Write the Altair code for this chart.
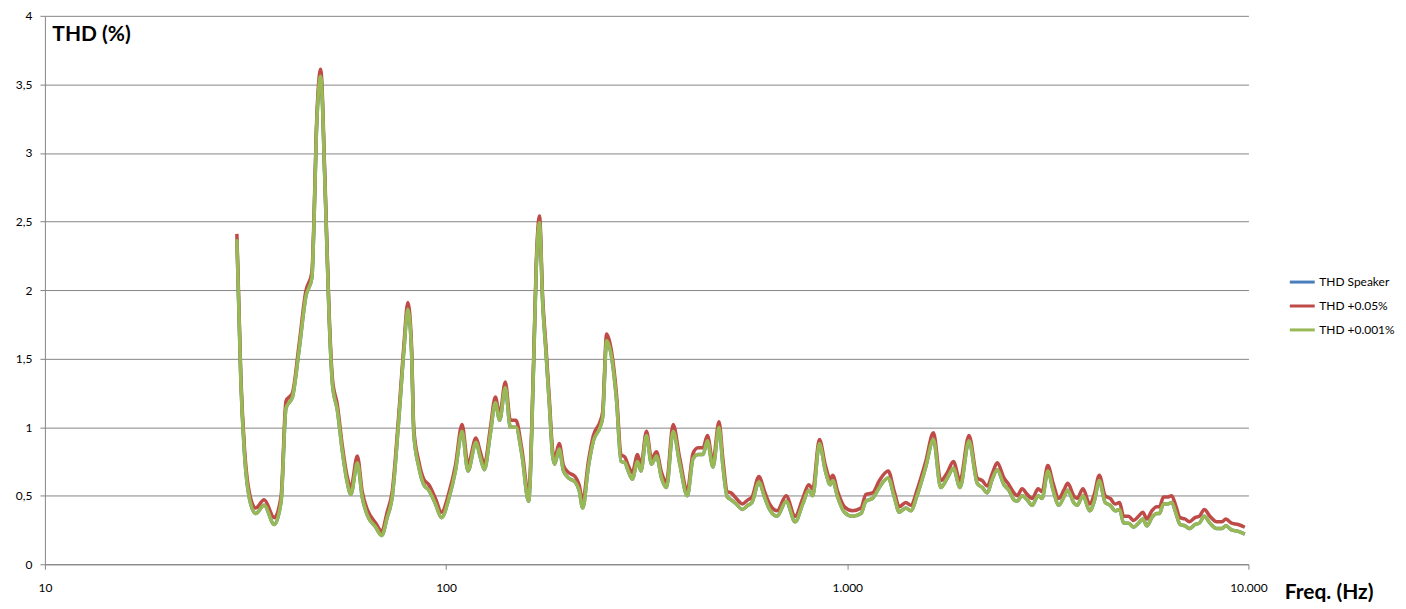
import altair as alt
import pandas as pd

freq = [30.1, 30.8, 31.4, 32.3, 33.5, 35.2, 37.3, 38.8, 39.9, 41.4,
        43.0, 44.7, 46.3, 46.9, 47.5, 48.7, 49.9, 51.1, 52.1, 53.6,
        55.1, 56.6, 57.9, 60.1, 61.8, 63.6, 66.8, 69.1, 71.3, 73.4,
        76.3, 78.5, 80.3, 82.0, 83.1, 85.5, 88.0, 90.6, 94.1, 97.4,
        101.6, 105.5, 109.6, 113.4, 118.7, 121.7, 124.6, 128.9, 132.7, 136.0,
        140.5, 144.6, 149.3, 154.5, 160.6, 165.2, 167.8, 171.0, 174.0, 177.3,
        181.1, 184.2, 186.4, 191.4, 196.2, 201.8, 209.7, 214.6, 219.1, 226.3,
        232.9, 242.0, 245.6, 251.3, 258.6, 266.1, 272.9, 279.2, 284.5, 291.1,
        300.1, 306.0, 315.9, 325.1, 334.6, 344.3, 354.3, 368.1, 382.5, 399.4,
        412.7, 424.7, 437.1, 448.0, 462.8, 478.9, 490.1, 502.3, 513.9, 528.9,
        547.4, 565.5, 578.6, 602.3, 622.2, 640.3, 668.8, 704.1, 741.3, 774.7,
        801.9, 820.4, 852.4, 882.2, 907.8, 919.8, 946.5, 983.5, 1031, 1082,
        1113, 1156, 1202, 1265, 1310, 1348, 1399, 1440, 1496, 1569,
        1640, 1710, 1777, 1839, 1910, 2011, 2109, 2171, 2234, 2298,
        2365, 2458, 2529, 2603, 2652, 2729, 2808, 2890, 2991, 3060,
        3162, 3260, 3368, 3466, 3546, 3669, 3739, 3870, 4021, 4128,
        4248, 4396, 4524, 4655, 4774, 4885, 5026, 5172, 5322, 5456,
        5581, 5743, 5910, 6002, 6140, 6283, 6440, 6601, 6754, 6950,
        7126, 7359, 7546, 7765, 8017, 8332, 8574, 8786, 9079, 9433,
        9795]

thd_speaker = [2.37, 1.32, 0.83, 0.49, 0.37, 0.43, 0.29, 0.46, 1.14, 1.22,
               1.56, 1.95, 2.09, 2.53, 3.14, 3.56, 2.77, 1.80, 1.31, 1.12,
               0.83, 0.61, 0.51, 0.74, 0.49, 0.36, 0.27, 0.21, 0.34, 0.49,
               1.07, 1.56, 1.86, 1.56, 0.95, 0.71, 0.58, 0.54, 0.44, 0.34,
               0.48, 0.68, 0.97, 0.68, 0.89, 0.78, 0.69, 0.95, 1.18, 1.05,
               1.29, 1.00, 1.00, 0.80, 0.46, 1.43, 2.16, 2.49, 1.92, 1.56,
               1.14, 0.80, 0.73, 0.84, 0.68, 0.63, 0.60, 0.54, 0.41, 0.71,
               0.90, 1.00, 1.07, 1.63, 1.51, 1.19, 0.75, 0.74, 0.68, 0.62,
               0.75, 0.68, 0.94, 0.73, 0.79, 0.63, 0.56, 0.97, 0.73, 0.50,
               0.77, 0.80, 0.80, 0.90, 0.71, 1.00, 0.71, 0.49, 0.47, 0.44,
               0.40, 0.43, 0.45, 0.60, 0.49, 0.40, 0.35, 0.46, 0.31, 0.44,
               0.54, 0.50, 0.88, 0.68, 0.58, 0.61, 0.49, 0.38, 0.35, 0.37,
               0.46, 0.48, 0.56, 0.63, 0.49, 0.38, 0.41, 0.39, 0.51, 0.71,
               0.91, 0.56, 0.63, 0.70, 0.56, 0.90, 0.59, 0.56, 0.52, 0.62,
               0.69, 0.58, 0.54, 0.47, 0.46, 0.50, 0.47, 0.43, 0.50, 0.48,
               0.68, 0.54, 0.43, 0.49, 0.54, 0.45, 0.43, 0.50, 0.39, 0.46,
               0.61, 0.45, 0.43, 0.39, 0.40, 0.30, 0.30, 0.27, 0.30, 0.33,
               0.28, 0.34, 0.37, 0.37, 0.44, 0.44, 0.45, 0.37, 0.29, 0.28,
               0.26, 0.29, 0.30, 0.35, 0.30, 0.26, 0.26, 0.28, 0.25, 0.24,
               0.22]

thd_005 = [2.41, 1.36, 0.87, 0.53, 0.41, 0.47, 0.34, 0.50, 1.19, 1.25,
           1.60, 1.99, 2.13, 2.57, 3.18, 3.61, 2.81, 1.84, 1.35, 1.16,
           0.87, 0.65, 0.56, 0.79, 0.53, 0.40, 0.30, 0.24, 0.38, 0.53,
           1.11, 1.60, 1.91, 1.60, 0.99, 0.75, 0.62, 0.58, 0.48, 0.38,
           0.52, 0.72, 1.02, 0.73, 0.92, 0.82, 0.73, 0.99, 1.22, 1.09,
           1.33, 1.05, 1.05, 0.84, 0.51, 1.47, 2.20, 2.54, 1.96, 1.60,
           1.18, 0.84, 0.77, 0.88, 0.72, 0.67, 0.64, 0.58, 0.46, 0.75,
           0.94, 1.04, 1.11, 1.68, 1.55, 1.23, 0.80, 0.78, 0.72, 0.67,
           0.80, 0.72, 0.97, 0.77, 0.82, 0.67, 0.60, 1.02, 0.77, 0.54,
           0.81, 0.85, 0.85, 0.94, 0.75, 1.04, 0.76, 0.53, 0.52, 0.48,
           0.44, 0.47, 0.49, 0.64, 0.53, 0.44, 0.39, 0.50, 0.35, 0.48,
           0.58, 0.55, 0.91, 0.72, 0.62, 0.65, 0.53, 0.42, 0.39, 0.41,
           0.51, 0.52, 0.61, 0.68, 0.53, 0.42, 0.45, 0.43, 0.55, 0.75,
           0.96, 0.61, 0.67, 0.75, 0.61, 0.94, 0.63, 0.61, 0.57, 0.66,
           0.74, 0.63, 0.58, 0.52, 0.50, 0.55, 0.51, 0.48, 0.55, 0.53,
           0.72, 0.59, 0.48, 0.54, 0.59, 0.50, 0.48, 0.55, 0.44, 0.51,
           0.65, 0.50, 0.48, 0.44, 0.45, 0.35, 0.35, 0.32, 0.35, 0.38,
           0.33, 0.39, 0.42, 0.42, 0.49, 0.49, 0.50, 0.42, 0.34, 0.33,
           0.31, 0.34, 0.35, 0.40, 0.35, 0.31, 0.31, 0.33, 0.30, 0.29,
           0.27]

thd_0001 = [2.37, 1.32, 0.83, 0.49, 0.37, 0.43, 0.29, 0.46, 1.14, 1.22,
            1.56, 1.95, 2.09, 2.53, 3.14, 3.56, 2.77, 1.80, 1.31, 1.12,
            0.83, 0.61, 0.51, 0.74, 0.49, 0.36, 0.27, 0.21, 0.34, 0.49,
            1.07, 1.56, 1.86, 1.56, 0.95, 0.71, 0.58, 0.54, 0.44, 0.34,
            0.48, 0.68, 0.97, 0.68, 0.89, 0.78, 0.69, 0.95, 1.18, 1.05,
            1.29, 1.00, 1.00, 0.80, 0.46, 1.43, 2.16, 2.49, 1.92, 1.56,
            1.14, 0.80, 0.73, 0.84, 0.68, 0.63, 0.60, 0.54, 0.41, 0.71,
            0.90, 1.00, 1.07, 1.63, 1.51, 1.19, 0.75, 0.74, 0.68, 0.62,
            0.75, 0.68, 0.94, 0.73, 0.79, 0.63, 0.56, 0.97, 0.73, 0.50,
            0.77, 0.80, 0.80, 0.90, 0.71, 1.00, 0.71, 0.49, 0.47, 0.44,
            0.40, 0.43, 0.45, 0.60, 0.49, 0.40, 0.35, 0.46, 0.31, 0.44,
            0.54, 0.50, 0.88, 0.68, 0.58, 0.61, 0.49, 0.38, 0.35, 0.37,
            0.46, 0.48, 0.56, 0.63, 0.49, 0.38, 0.41, 0.39, 0.51, 0.71,
            0.91, 0.56, 0.63, 0.70, 0.56, 0.90, 0.59, 0.56, 0.52, 0.62,
            0.69, 0.58, 0.54, 0.47, 0.46, 0.50, 0.47, 0.43, 0.50, 0.48,
            0.68, 0.54, 0.43, 0.49, 0.54, 0.45, 0.43, 0.50, 0.39, 0.46,
            0.61, 0.45, 0.43, 0.39, 0.40, 0.30, 0.30, 0.27, 0.30, 0.33,
            0.28, 0.34, 0.37, 0.37, 0.44, 0.44, 0.45, 0.37, 0.29, 0.28,
            0.26, 0.29, 0.30, 0.35, 0.30, 0.26, 0.26, 0.28, 0.25, 0.24,
            0.22]

series_names = ["THD Speaker", "THD +0.05%", "THD +0.001%"]
series_colors = ["#4A7EBB", "#BE4B48", "#98B954"]
y_ticks = [0, 0.5, 1, 1.5, 2, 2.5, 3, 3.5, 4]
x_ticks = [10, 100, 1000, 10000]

rows = []
for name, vals in zip(series_names, [thd_speaker, thd_005, thd_0001]):
    for f, v in zip(freq, vals):
        rows.append({"freq": f, "thd": v, "series": name})
df = pd.DataFrame(rows)

FONT = "Lato"
GRID = "#868686"

color = alt.Color(
    "series:N",
    scale=alt.Scale(domain=series_names, range=series_colors),
    legend=alt.Legend(
        title=None, orient="none", legendX=1247, legendY=253,
        symbolType="stroke", symbolSize=625, symbolStrokeWidth=3,
        labelFont=FONT, labelFontSize=12, labelColor="#000000",
        rowPadding=4, labelOffset=3,
    ),
)

x_enc = alt.X(
    "freq:Q",
    scale=alt.Scale(type="log", domain=[10, 10000], nice=False),
    axis=alt.Axis(
        values=x_ticks, grid=False, title="Freq. (Hz)",
        labelExpr="datum.value >= 1000 ? replace(format(datum.value, ','), ',', '.') : toString(datum.value)",
        labelFont=FONT, labelFontSize=12, labelColor="#000000", labelPadding=13,
        labelFlush=False, tickSize=5, tickColor=GRID, domainColor=GRID,
        titleFont=FONT, titleFontSize=21, titleFontWeight="bold", titleColor="#000000",
        titleAlign="left", titleBaseline="middle", titleX=1243, titleY=28,
    ),
)
y_enc = alt.Y(
    "thd:Q",
    scale=alt.Scale(domain=[0, 4], nice=False),
    axis=alt.Axis(
        values=y_ticks, grid=True, gridColor=GRID, gridWidth=1,
        labelExpr="replace(toString(datum.value), '.', ',')",
        labelFont=FONT, labelFontSize=12, labelColor="#000000", labelPadding=8,
        tickSize=5, tickColor=GRID, domainColor=GRID,
        title="THD (%)", titleFont=FONT, titleFontSize=21, titleFontWeight="bold",
        titleColor="#000000", titleAngle=0, titleAlign="left", titleBaseline="top",
        titleX=7, titleY=8,
    ),
)

layers = []
for name in series_names:
    layers.append(
        alt.Chart(df)
        .transform_filter(alt.datum.series == name)
        .mark_line(strokeWidth=3.5, interpolate="monotone")
        .encode(x=x_enc, y=y_enc, color=color, order="freq:Q")
    )

chart = (
    alt.layer(*layers)
    .properties(
        width=1207, height=550,
        padding={"left": 37, "top": 7, "right": 150, "bottom": 37},
        autosize=alt.AutoSizeParams(type="none"),
        background="white",
    )
    .configure_view(stroke=None)
)

chart.save("out.html", embed_options={"renderer": "svg", "actions": False})
